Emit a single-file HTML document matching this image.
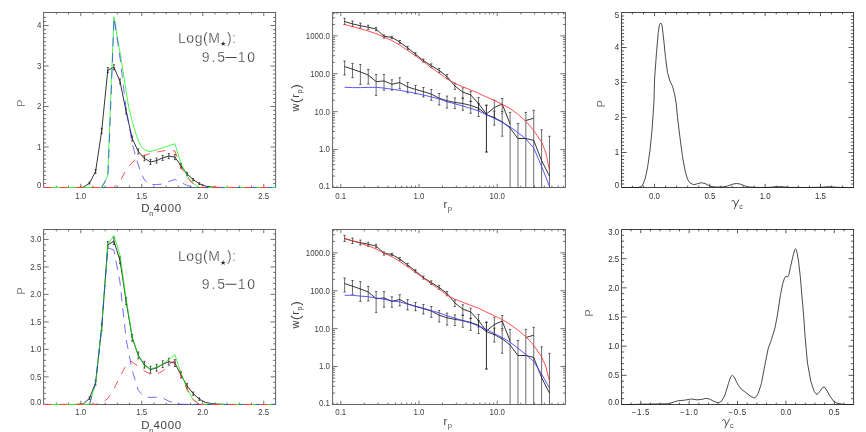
<!DOCTYPE html>
<html><head><meta charset="utf-8"><title>figure</title>
<style>html,body{margin:0;padding:0;background:#fff;overflow:hidden}svg{display:block}</style>
</head><body>
<svg width="866" height="432" viewBox="0 0 866 432">
<rect width="866" height="432" fill="#fff"/>
<g opacity="0.995">
<rect x="43.6" y="12.5" width="232" height="175" fill="none" stroke="#626262" stroke-width="1.0"/>
<path d="M80.75 187.5v-3.7 M80.75 12.5v3.7 M141.75 187.5v-3.7 M141.75 12.5v3.7 M202.75 187.5v-3.7 M202.75 12.5v3.7 M263.75 187.5v-3.7 M263.75 12.5v3.7 M56.35 187.5v-1.9 M56.35 12.5v1.9 M68.55 187.5v-1.9 M68.55 12.5v1.9 M92.95 187.5v-1.9 M92.95 12.5v1.9 M105.15 187.5v-1.9 M105.15 12.5v1.9 M117.35 187.5v-1.9 M117.35 12.5v1.9 M129.55 187.5v-1.9 M129.55 12.5v1.9 M153.95 187.5v-1.9 M153.95 12.5v1.9 M166.15 187.5v-1.9 M166.15 12.5v1.9 M178.35 187.5v-1.9 M178.35 12.5v1.9 M190.55 187.5v-1.9 M190.55 12.5v1.9 M214.95 187.5v-1.9 M214.95 12.5v1.9 M227.15 187.5v-1.9 M227.15 12.5v1.9 M239.35 187.5v-1.9 M239.35 12.5v1.9 M251.55 187.5v-1.9 M251.55 12.5v1.9 " fill="none" stroke="#626262" stroke-width="0.9"/>
<path d="M43.6 147h5 M275.6 147h-5 M43.6 106.5h5 M275.6 106.5h-5 M43.6 66h5 M275.6 66h-5 M43.6 25.5h5 M275.6 25.5h-5 M43.6 183.45h2.5 M275.6 183.45h-2.5 M43.6 179.4h2.5 M275.6 179.4h-2.5 M43.6 175.35h2.5 M275.6 175.35h-2.5 M43.6 171.3h2.5 M275.6 171.3h-2.5 M43.6 167.25h2.5 M275.6 167.25h-2.5 M43.6 163.2h2.5 M275.6 163.2h-2.5 M43.6 159.15h2.5 M275.6 159.15h-2.5 M43.6 155.1h2.5 M275.6 155.1h-2.5 M43.6 151.05h2.5 M275.6 151.05h-2.5 M43.6 142.95h2.5 M275.6 142.95h-2.5 M43.6 138.9h2.5 M275.6 138.9h-2.5 M43.6 134.85h2.5 M275.6 134.85h-2.5 M43.6 130.8h2.5 M275.6 130.8h-2.5 M43.6 126.75h2.5 M275.6 126.75h-2.5 M43.6 122.7h2.5 M275.6 122.7h-2.5 M43.6 118.65h2.5 M275.6 118.65h-2.5 M43.6 114.6h2.5 M275.6 114.6h-2.5 M43.6 110.55h2.5 M275.6 110.55h-2.5 M43.6 102.45h2.5 M275.6 102.45h-2.5 M43.6 98.4h2.5 M275.6 98.4h-2.5 M43.6 94.35h2.5 M275.6 94.35h-2.5 M43.6 90.3h2.5 M275.6 90.3h-2.5 M43.6 86.25h2.5 M275.6 86.25h-2.5 M43.6 82.2h2.5 M275.6 82.2h-2.5 M43.6 78.15h2.5 M275.6 78.15h-2.5 M43.6 74.1h2.5 M275.6 74.1h-2.5 M43.6 70.05h2.5 M275.6 70.05h-2.5 M43.6 61.95h2.5 M275.6 61.95h-2.5 M43.6 57.9h2.5 M275.6 57.9h-2.5 M43.6 53.85h2.5 M275.6 53.85h-2.5 M43.6 49.8h2.5 M275.6 49.8h-2.5 M43.6 45.75h2.5 M275.6 45.75h-2.5 M43.6 41.7h2.5 M275.6 41.7h-2.5 M43.6 37.65h2.5 M275.6 37.65h-2.5 M43.6 33.6h2.5 M275.6 33.6h-2.5 M43.6 29.55h2.5 M275.6 29.55h-2.5 M43.6 21.45h2.5 M275.6 21.45h-2.5 M43.6 17.4h2.5 M275.6 17.4h-2.5 " fill="none" stroke="#626262" stroke-width="0.9"/>
<polyline points="77.3,187.5 83.4,187.18 89.5,183.04 95.6,171.5 101.7,130.8 107.8,70.05 113.9,67.21 120,81.39 126.1,111.36 132.2,138.5 138.3,151.45 144.4,158.34 150.5,161.99 156.6,160.57 162.7,157.94 168.8,156.11 174.9,157.12 181,165.83 187.1,173.97 193.2,179.64 199.3,183.69 205.4,186.12 211.5,186.97 217.6,187.34 223.7,187.5" fill="none" stroke="#111" stroke-width="0.85" />
<path d="M89.5 182.07V184.02 M88.5 182.07h2 M88.5 184.02h2 M95.6 169.63V173.37 M94.6 169.63h2 M94.6 173.37h2 M101.7 128.29V133.31 M100.7 128.29h2 M100.7 133.31h2 M107.8 67.54V72.56 M106.8 67.54h2 M106.8 72.56h2 M113.9 64.7V69.73 M112.9 64.7h2 M112.9 69.73h2 M120 78.88V83.9 M119 78.88h2 M119 83.9h2 M126.1 108.85V113.87 M125.1 108.85h2 M125.1 113.87h2 M132.2 135.98V141.01 M131.2 135.98h2 M131.2 141.01h2 M138.3 148.94V153.97 M137.3 148.94h2 M137.3 153.97h2 M144.4 155.83V160.85 M143.4 155.83h2 M143.4 160.85h2 M150.5 159.47V164.5 M149.5 159.47h2 M149.5 164.5h2 M156.6 158.06V163.08 M155.6 158.06h2 M155.6 163.08h2 M162.7 155.42V160.45 M161.7 155.42h2 M161.7 160.45h2 M168.8 153.6V158.62 M167.8 153.6h2 M167.8 158.62h2 M174.9 154.61V159.64 M173.9 154.61h2 M173.9 159.64h2 M181 163.53V168.14 M180 163.53h2 M180 168.14h2 M187.1 172.3V175.65 M186.1 172.3h2 M186.1 175.65h2 M193.2 178.41V180.88 M192.2 178.41h2 M192.2 180.88h2 M199.3 182.77V184.62 M198.3 182.77h2 M198.3 184.62h2 " fill="none" stroke="#111" stroke-width="0.7"/>
<polyline points="43.6,187.5 101.7,187.5" fill="none" stroke="#3cf03c" stroke-width="1.0" />
<polyline points="199.3,187.5 275.6,187.5" fill="none" stroke="#3cf03c" stroke-width="1.0" />
<polyline points="101.7,187.5 107.7,176 113.9,16.9 120.6,56 126,90 128.4,106 132.5,122.4 136.9,137 140.9,145.9 145,150.3 149.8,151.6 155,150.3 162.7,147.6 168.8,145.7 174.9,143.75 181,163.5 187.1,176 193.2,183.5 199.3,187.5" fill="none" stroke="#00f400" stroke-width="0.72" />
<polyline points="101.7,187.5 108,176.3 114.1,17.8 120.6,62 126,108" fill="none" stroke="#2424ff" stroke-width="0.66" stroke-dasharray="9.3 6.7" stroke-dashoffset="1.22" />
<polyline points="126,108 129,125 132.3,144 135.3,155 138.3,165 141.5,174 144.6,180.2" fill="none" stroke="#2424ff" stroke-width="0.66" stroke-dasharray="9.3 6.7" stroke-dashoffset="10.13" />
<polyline points="144.6,180.2 150.4,184.4 156.6,184.6 162.7,184 168.8,181.5 174.9,179.4 181,182.5 187.1,185.5 193.2,187 199.3,187.5" fill="none" stroke="#2424ff" stroke-width="0.66" stroke-dasharray="9.3 6.7" stroke-dashoffset="6.74" />
<polyline points="199.3,187.5 275.6,187.5" fill="none" stroke="#2424ff" stroke-width="0.66" stroke-dasharray="9.3 6.7" stroke-dashoffset="0" />
<polyline points="43.6,187.5 113.9,187.5" fill="none" stroke="#ff4040" stroke-width="1.0" stroke-dasharray="8.3 7.6" stroke-dashoffset="0" />
<polyline points="113.9,187.5 120,181.25 126.1,169.8 132.2,162.5 138.3,157.9 144.4,155.2 150.5,153.6 156.6,152.1 162.7,151 168.8,150 174.9,151 181,167.5 187.1,177.5 193.2,184 199.3,187.5" fill="none" stroke="#ff0c0c" stroke-width="0.72" stroke-dasharray="8.3 7.6" stroke-dashoffset="4.88" />
<polyline points="199.3,187.5 275.6,187.5" fill="none" stroke="#ff4040" stroke-width="1.0" stroke-dasharray="8.3 7.6" stroke-dashoffset="3.1" />
<text transform="translate(41.3 187.5) scale(0.95 1)" font-size="8.3" text-anchor="end" fill="#404040" font-family="Liberation Sans, sans-serif" >0</text>
<text transform="translate(41.3 149.8) scale(0.95 1)" font-size="8.3" text-anchor="end" fill="#404040" font-family="Liberation Sans, sans-serif" >1</text>
<text transform="translate(41.3 109.3) scale(0.95 1)" font-size="8.3" text-anchor="end" fill="#404040" font-family="Liberation Sans, sans-serif" >2</text>
<text transform="translate(41.3 68.8) scale(0.95 1)" font-size="8.3" text-anchor="end" fill="#404040" font-family="Liberation Sans, sans-serif" >3</text>
<text transform="translate(41.3 28.3) scale(0.95 1)" font-size="8.3" text-anchor="end" fill="#404040" font-family="Liberation Sans, sans-serif" >4</text>
<text transform="translate(80.75 198.6) scale(0.95 1)" font-size="8.3" text-anchor="middle" fill="#404040" font-family="Liberation Sans, sans-serif" >1.0</text>
<text transform="translate(141.75 198.6) scale(0.95 1)" font-size="8.3" text-anchor="middle" fill="#404040" font-family="Liberation Sans, sans-serif" >1.5</text>
<text transform="translate(202.75 198.6) scale(0.95 1)" font-size="8.3" text-anchor="middle" fill="#404040" font-family="Liberation Sans, sans-serif" >2.0</text>
<text transform="translate(263.75 198.6) scale(0.95 1)" font-size="8.3" text-anchor="middle" fill="#404040" font-family="Liberation Sans, sans-serif" >2.5</text>
<text x="141.2" y="212.3" font-size="11.5" fill="#404040" font-family="Liberation Sans, sans-serif" letter-spacing="0.7">D<tspan font-size="7.2" dy="3.4" dx="-0.9" fill="#4a4a4a">n</tspan><tspan dy="-3.4" dx="-0.5">4000</tspan></text>
<text transform="translate(25.1 103.2) rotate(-90)" font-size="10.6" text-anchor="middle" fill="#404040" font-family="Liberation Sans, sans-serif" stroke="#fff" stroke-width="0.22" paint-order="fill stroke">P</text>
<text x="178.0" y="42.5" font-size="14" fill="#2c2c2c" stroke="#fff" stroke-width="0.3" paint-order="fill stroke" font-family="Liberation Sans, sans-serif" letter-spacing="0.55">Log(M<tspan font-size="7" dy="3.6" dx="-0.3" stroke="none">&#9733;</tspan><tspan dy="-3.6" dx="0.2">):</tspan></text>
<text x="201.8" y="62" font-size="14" fill="#2c2c2c" stroke="#fff" stroke-width="0.3" paint-order="fill stroke" font-family="Liberation Sans, sans-serif" letter-spacing="1.9">9.5</text>
<text x="237.7" y="62" font-size="14" fill="#2c2c2c" stroke="#fff" stroke-width="0.3" paint-order="fill stroke" font-family="Liberation Sans, sans-serif" letter-spacing="1.9">10</text>
<path d="M225.6 57.5h11" stroke="#444" stroke-width="1" fill="none"/>
<rect x="43.6" y="229.5" width="232" height="175" fill="none" stroke="#626262" stroke-width="1.0"/>
<path d="M80.75 404.5v-3.7 M80.75 229.5v3.7 M141.75 404.5v-3.7 M141.75 229.5v3.7 M202.75 404.5v-3.7 M202.75 229.5v3.7 M263.75 404.5v-3.7 M263.75 229.5v3.7 M56.35 404.5v-1.9 M56.35 229.5v1.9 M68.55 404.5v-1.9 M68.55 229.5v1.9 M92.95 404.5v-1.9 M92.95 229.5v1.9 M105.15 404.5v-1.9 M105.15 229.5v1.9 M117.35 404.5v-1.9 M117.35 229.5v1.9 M129.55 404.5v-1.9 M129.55 229.5v1.9 M153.95 404.5v-1.9 M153.95 229.5v1.9 M166.15 404.5v-1.9 M166.15 229.5v1.9 M178.35 404.5v-1.9 M178.35 229.5v1.9 M190.55 404.5v-1.9 M190.55 229.5v1.9 M214.95 404.5v-1.9 M214.95 229.5v1.9 M227.15 404.5v-1.9 M227.15 229.5v1.9 M239.35 404.5v-1.9 M239.35 229.5v1.9 M251.55 404.5v-1.9 M251.55 229.5v1.9 " fill="none" stroke="#626262" stroke-width="0.9"/>
<path d="M43.6 404.3h5 M275.6 404.3h-5 M43.6 376.82h5 M275.6 376.82h-5 M43.6 349.35h5 M275.6 349.35h-5 M43.6 321.88h5 M275.6 321.88h-5 M43.6 294.4h5 M275.6 294.4h-5 M43.6 266.93h5 M275.6 266.93h-5 M43.6 239.45h5 M275.6 239.45h-5 M43.6 398.81h2.5 M275.6 398.81h-2.5 M43.6 393.31h2.5 M275.6 393.31h-2.5 M43.6 387.81h2.5 M275.6 387.81h-2.5 M43.6 382.32h2.5 M275.6 382.32h-2.5 M43.6 371.33h2.5 M275.6 371.33h-2.5 M43.6 365.84h2.5 M275.6 365.84h-2.5 M43.6 360.34h2.5 M275.6 360.34h-2.5 M43.6 354.85h2.5 M275.6 354.85h-2.5 M43.6 343.86h2.5 M275.6 343.86h-2.5 M43.6 338.36h2.5 M275.6 338.36h-2.5 M43.6 332.87h2.5 M275.6 332.87h-2.5 M43.6 327.37h2.5 M275.6 327.37h-2.5 M43.6 316.38h2.5 M275.6 316.38h-2.5 M43.6 310.88h2.5 M275.6 310.88h-2.5 M43.6 305.39h2.5 M275.6 305.39h-2.5 M43.6 299.89h2.5 M275.6 299.89h-2.5 M43.6 288.9h2.5 M275.6 288.9h-2.5 M43.6 283.41h2.5 M275.6 283.41h-2.5 M43.6 277.91h2.5 M275.6 277.91h-2.5 M43.6 272.42h2.5 M275.6 272.42h-2.5 M43.6 261.43h2.5 M275.6 261.43h-2.5 M43.6 255.94h2.5 M275.6 255.94h-2.5 M43.6 250.44h2.5 M275.6 250.44h-2.5 M43.6 244.94h2.5 M275.6 244.94h-2.5 M43.6 233.95h2.5 M275.6 233.95h-2.5 " fill="none" stroke="#626262" stroke-width="0.9"/>
<polyline points="77.3,404.3 83.4,403.86 89.5,398.26 95.6,382.59 101.7,327.37 107.8,244.95 113.9,241.1 120,260.33 126.1,300.99 132.2,337.81 138.3,355.39 144.4,364.74 150.5,369.68 156.6,367.76 162.7,364.19 168.8,361.71 174.9,363.09 181,374.9 187.1,385.95 193.2,393.64 199.3,399.13 205.4,402.43 211.5,403.59 217.6,404.08 223.7,404.3" fill="none" stroke="#111" stroke-width="0.85" />
<path d="M89.5 396.94V399.58 M88.5 396.94h2 M88.5 399.58h2 M95.6 380.06V385.13 M94.6 380.06h2 M94.6 385.13h2 M101.7 323.96V330.78 M100.7 323.96h2 M100.7 330.78h2 M107.8 241.54V248.35 M106.8 241.54h2 M106.8 248.35h2 M113.9 237.69V244.51 M112.9 237.69h2 M112.9 244.51h2 M120 256.92V263.74 M119 256.92h2 M119 263.74h2 M126.1 297.59V304.4 M125.1 297.59h2 M125.1 304.4h2 M132.2 334.4V341.22 M131.2 334.4h2 M131.2 341.22h2 M138.3 351.99V358.8 M137.3 351.99h2 M137.3 358.8h2 M144.4 361.33V368.14 M143.4 361.33h2 M143.4 368.14h2 M150.5 366.27V373.09 M149.5 366.27h2 M149.5 373.09h2 M156.6 364.35V371.17 M155.6 364.35h2 M155.6 371.17h2 M162.7 360.78V367.59 M161.7 360.78h2 M161.7 367.59h2 M168.8 358.31V365.12 M167.8 358.31h2 M167.8 365.12h2 M174.9 359.68V366.49 M173.9 359.68h2 M173.9 366.49h2 M181 371.77V378.03 M180 371.77h2 M180 378.03h2 M187.1 383.67V388.22 M186.1 383.67h2 M186.1 388.22h2 M193.2 391.96V395.32 M192.2 391.96h2 M192.2 395.32h2 M199.3 397.88V400.39 M198.3 397.88h2 M198.3 400.39h2 " fill="none" stroke="#111" stroke-width="0.7"/>
<polyline points="43.6,404.5 89.5,404.3" fill="none" stroke="#3cf03c" stroke-width="1.0" />
<polyline points="199.3,404.3 275.6,404.5" fill="none" stroke="#3cf03c" stroke-width="1.0" />
<polyline points="89.5,404.3 95.6,382.87 101.7,327.37 107.8,244.7 113.9,235.3 120,255 126.1,298.8 132.2,336.71 138.3,355.94 144.4,366 150.5,368.8 156.6,367.2 162.7,364 168.8,359.5 174.9,354.6 181,373.2 187.1,388.6 193.2,399.6 199.3,404.3" fill="none" stroke="#00f400" stroke-width="0.72" />
<polyline points="89.5,404.3 95.6,382.87 101.7,327.37 107.8,247.8 113.9,249.9 120,282 126.1,339 132.2,370.5 138.3,390.5 144.4,396.8 150.5,397.4 156.6,397.2 162.7,398 168.8,401.2 174.9,403.4 181,404.3 199.3,404.3" fill="none" stroke="#2424ff" stroke-width="0.66" stroke-dasharray="9.3 6.7" stroke-dashoffset="0.59" />
<polyline points="199.3,404.5 275.6,404.5" fill="none" stroke="#2424ff" stroke-width="0.66" stroke-dasharray="9.3 6.7" stroke-dashoffset="7.9" />
<polyline points="43.6,404.5 95.6,404.3" fill="none" stroke="#ff4040" stroke-width="1.0" stroke-dasharray="8.3 7.6" stroke-dashoffset="0" />
<polyline points="95.6,404.3 101.7,403 107.8,398.5 113.9,389 120,376.5 126.1,365.3 131,361.2 138.3,366.3 144.4,371 150.5,374.1 156.6,374.3 162.7,371 168.8,364.5 174.9,360.7 181,375.4 187.1,389.7 193.2,399.6 199.3,404.3" fill="none" stroke="#ff0c0c" stroke-width="0.72" stroke-dasharray="8.3 7.6" stroke-dashoffset="5.98" />
<polyline points="199.3,404.5 275.6,404.5" fill="none" stroke="#ff4040" stroke-width="1.0" stroke-dasharray="8.3 7.6" stroke-dashoffset="3.1" />
<text transform="translate(41.3 404.5) scale(0.95 1)" font-size="8.3" text-anchor="end" fill="#404040" font-family="Liberation Sans, sans-serif" >0.0</text>
<text transform="translate(41.3 379.62) scale(0.95 1)" font-size="8.3" text-anchor="end" fill="#404040" font-family="Liberation Sans, sans-serif" >0.5</text>
<text transform="translate(41.3 352.15) scale(0.95 1)" font-size="8.3" text-anchor="end" fill="#404040" font-family="Liberation Sans, sans-serif" >1.0</text>
<text transform="translate(41.3 324.68) scale(0.95 1)" font-size="8.3" text-anchor="end" fill="#404040" font-family="Liberation Sans, sans-serif" >1.5</text>
<text transform="translate(41.3 297.2) scale(0.95 1)" font-size="8.3" text-anchor="end" fill="#404040" font-family="Liberation Sans, sans-serif" >2.0</text>
<text transform="translate(41.3 269.73) scale(0.95 1)" font-size="8.3" text-anchor="end" fill="#404040" font-family="Liberation Sans, sans-serif" >2.5</text>
<text transform="translate(41.3 242.25) scale(0.95 1)" font-size="8.3" text-anchor="end" fill="#404040" font-family="Liberation Sans, sans-serif" >3.0</text>
<text transform="translate(80.75 415) scale(0.95 1)" font-size="8.3" text-anchor="middle" fill="#404040" font-family="Liberation Sans, sans-serif" >1.0</text>
<text transform="translate(141.75 415) scale(0.95 1)" font-size="8.3" text-anchor="middle" fill="#404040" font-family="Liberation Sans, sans-serif" >1.5</text>
<text transform="translate(202.75 415) scale(0.95 1)" font-size="8.3" text-anchor="middle" fill="#404040" font-family="Liberation Sans, sans-serif" >2.0</text>
<text transform="translate(263.75 415) scale(0.95 1)" font-size="8.3" text-anchor="middle" fill="#404040" font-family="Liberation Sans, sans-serif" >2.5</text>
<text x="141.2" y="429.3" font-size="11.5" fill="#404040" font-family="Liberation Sans, sans-serif" letter-spacing="0.7">D<tspan font-size="7.2" dy="3.4" dx="-0.9" fill="#4a4a4a">n</tspan><tspan dy="-3.4" dx="-0.5">4000</tspan></text>
<text transform="translate(25.1 291) rotate(-90)" font-size="10.6" text-anchor="middle" fill="#404040" font-family="Liberation Sans, sans-serif" stroke="#fff" stroke-width="0.22" paint-order="fill stroke">P</text>
<text x="178.0" y="261.4" font-size="14" fill="#2c2c2c" stroke="#fff" stroke-width="0.3" paint-order="fill stroke" font-family="Liberation Sans, sans-serif" letter-spacing="0.55">Log(M<tspan font-size="7" dy="3.6" dx="-0.3" stroke="none">&#9733;</tspan><tspan dy="-3.6" dx="0.2">):</tspan></text>
<text x="201.8" y="288.75" font-size="14" fill="#2c2c2c" stroke="#fff" stroke-width="0.3" paint-order="fill stroke" font-family="Liberation Sans, sans-serif" letter-spacing="1.9">9.5</text>
<text x="237.7" y="288.75" font-size="14" fill="#2c2c2c" stroke="#fff" stroke-width="0.3" paint-order="fill stroke" font-family="Liberation Sans, sans-serif" letter-spacing="1.9">10</text>
<path d="M225.6 284.25h11" stroke="#444" stroke-width="1" fill="none"/>
<rect x="332.6" y="12.5" width="232.8" height="175" fill="none" stroke="#626262" stroke-width="1.0"/>
<path d="M340.75 187.5v-3.7 M340.75 12.5v3.7 M419 187.5v-3.7 M419 12.5v3.7 M497.25 187.5v-3.7 M497.25 12.5v3.7 M333.17 187.5v-1.9 M333.17 12.5v1.9 M337.17 187.5v-1.9 M337.17 12.5v1.9 M364.31 187.5v-1.9 M364.31 12.5v1.9 M378.08 187.5v-1.9 M378.08 12.5v1.9 M387.86 187.5v-1.9 M387.86 12.5v1.9 M395.44 187.5v-1.9 M395.44 12.5v1.9 M401.64 187.5v-1.9 M401.64 12.5v1.9 M406.88 187.5v-1.9 M406.88 12.5v1.9 M411.42 187.5v-1.9 M411.42 12.5v1.9 M415.42 187.5v-1.9 M415.42 12.5v1.9 M442.56 187.5v-1.9 M442.56 12.5v1.9 M456.33 187.5v-1.9 M456.33 12.5v1.9 M466.11 187.5v-1.9 M466.11 12.5v1.9 M473.69 187.5v-1.9 M473.69 12.5v1.9 M479.89 187.5v-1.9 M479.89 12.5v1.9 M485.13 187.5v-1.9 M485.13 12.5v1.9 M489.67 187.5v-1.9 M489.67 12.5v1.9 M493.67 187.5v-1.9 M493.67 12.5v1.9 M520.81 187.5v-1.9 M520.81 12.5v1.9 M534.58 187.5v-1.9 M534.58 12.5v1.9 M544.36 187.5v-1.9 M544.36 12.5v1.9 M551.94 187.5v-1.9 M551.94 12.5v1.9 M558.14 187.5v-1.9 M558.14 12.5v1.9 M563.38 187.5v-1.9 M563.38 12.5v1.9 " fill="none" stroke="#626262" stroke-width="0.9"/>
<path d="M332.6 149.55h5 M565.4 149.55h-5 M332.6 111.65h5 M565.4 111.65h-5 M332.6 73.75h5 M565.4 73.75h-5 M332.6 35.85h5 M565.4 35.85h-5 M332.6 176.04h2.5 M565.4 176.04h-2.5 M332.6 169.37h2.5 M565.4 169.37h-2.5 M332.6 164.63h2.5 M565.4 164.63h-2.5 M332.6 160.96h2.5 M565.4 160.96h-2.5 M332.6 157.96h2.5 M565.4 157.96h-2.5 M332.6 155.42h2.5 M565.4 155.42h-2.5 M332.6 153.22h2.5 M565.4 153.22h-2.5 M332.6 151.28h2.5 M565.4 151.28h-2.5 M332.6 138.14h2.5 M565.4 138.14h-2.5 M332.6 131.47h2.5 M565.4 131.47h-2.5 M332.6 126.73h2.5 M565.4 126.73h-2.5 M332.6 123.06h2.5 M565.4 123.06h-2.5 M332.6 120.06h2.5 M565.4 120.06h-2.5 M332.6 117.52h2.5 M565.4 117.52h-2.5 M332.6 115.32h2.5 M565.4 115.32h-2.5 M332.6 113.38h2.5 M565.4 113.38h-2.5 M332.6 100.24h2.5 M565.4 100.24h-2.5 M332.6 93.57h2.5 M565.4 93.57h-2.5 M332.6 88.83h2.5 M565.4 88.83h-2.5 M332.6 85.16h2.5 M565.4 85.16h-2.5 M332.6 82.16h2.5 M565.4 82.16h-2.5 M332.6 79.62h2.5 M565.4 79.62h-2.5 M332.6 77.42h2.5 M565.4 77.42h-2.5 M332.6 75.48h2.5 M565.4 75.48h-2.5 M332.6 62.34h2.5 M565.4 62.34h-2.5 M332.6 55.67h2.5 M565.4 55.67h-2.5 M332.6 50.93h2.5 M565.4 50.93h-2.5 M332.6 47.26h2.5 M565.4 47.26h-2.5 M332.6 44.26h2.5 M565.4 44.26h-2.5 M332.6 41.72h2.5 M565.4 41.72h-2.5 M332.6 39.52h2.5 M565.4 39.52h-2.5 M332.6 37.58h2.5 M565.4 37.58h-2.5 M332.6 24.44h2.5 M565.4 24.44h-2.5 M332.6 17.77h2.5 M565.4 17.77h-2.5 M332.6 13.03h2.5 M565.4 13.03h-2.5 " fill="none" stroke="#626262" stroke-width="0.9"/>
<polyline points="344.6,21.5 352.48,23.9 360.36,25.7 368.24,27.2 376.12,29.1 384,36.3 391.88,37.4 399.76,42.1 407.64,47.9 415.52,54.2 423.4,60.6 431.28,65.6 439.16,70.4 447.04,76.6 454.92,86 462.8,92.1 470.68,94.9 478.56,103.6 486.44,114 494.32,107.5 502.2,104 510.08,124" fill="none" stroke="#111" stroke-width="0.85" />
<polyline points="525.84,120.5 533.72,118.2" fill="none" stroke="#111" stroke-width="0.85" />
<polyline points="344.6,66.5 352.48,69.2 360.36,71.9 368.24,75 376.12,81.7 384,80.9 391.88,84.3 399.76,82.5 407.64,86.9 415.52,89.4 423.4,91.6 431.28,94.1 439.16,98.2 447.04,100.8 454.92,102.4 462.8,103.5 470.68,105.4 478.56,108.3 486.44,114.7 494.32,117.6 502.2,121.9 510.08,128 517.96,138.5 525.84,138.5 533.72,140.4 541.6,160.6 549.48,176.1" fill="none" stroke="#111" stroke-width="0.85" />
<path d="M344.6 18.3V24.5 M343.4 18.3h2.4 M343.4 24.5h2.4 M352.48 21V26.6 M351.28 21h2.4 M351.28 26.6h2.4 M360.36 23.1V28 M359.16 23.1h2.4 M359.16 28h2.4 M368.24 25.2V29.4 M367.04 25.2h2.4 M367.04 29.4h2.4 M376.12 27.3V30.8 M374.92 27.3h2.4 M374.92 30.8h2.4 M384 34.9V38.1 M382.8 34.9h2.4 M382.8 38.1h2.4 M391.88 36.3V38.7 M390.68 36.3h2.4 M390.68 38.7h2.4 M399.76 40.5V43.3 M398.56 40.5h2.4 M398.56 43.3h2.4 M407.64 46.4V49.4 M406.44 46.4h2.4 M406.44 49.4h2.4 M415.52 52.7V55.7 M414.32 52.7h2.4 M414.32 55.7h2.4 M423.4 59.1V62.1 M422.2 59.1h2.4 M422.2 62.1h2.4 M431.28 63.8V67.4 M430.08 63.8h2.4 M430.08 67.4h2.4 M439.16 68.4V72.4 M437.96 68.4h2.4 M437.96 72.4h2.4 M447.04 74.4V78.8 M445.84 74.4h2.4 M445.84 78.8h2.4 M454.92 83.1V89.4 M453.72 83.1h2.4 M453.72 89.4h2.4 M462.8 87.8V98.2 M461.6 87.8h2.4 M461.6 98.2h2.4 M470.68 91.25V101.4 M469.48 91.25h2.4 M469.48 101.4h2.4 M478.56 97.5V110 M477.36 97.5h2.4 M477.36 110h2.4 M486.44 105.2V152 M485.24 105.2h2.4 M485.24 152h2.4 M494.32 100.2V117.5 M493.12 100.2h2.4 M493.12 117.5h2.4 M502.2 98.5V111.5 M501 98.5h2.4 M501 111.5h2.4 M344.6 61V75 M343.4 61h2.4 M343.4 75h2.4 M352.48 63.5V77.7 M351.28 63.5h2.4 M351.28 77.7h2.4 M360.36 64.6V84.4 M359.16 64.6h2.4 M359.16 84.4h2.4 M368.24 69.4V84 M367.04 69.4h2.4 M367.04 84h2.4 M376.12 74.6V95.4 M374.92 74.6h2.4 M374.92 95.4h2.4 M384 74.6V90.2 M382.8 74.6h2.4 M382.8 90.2h2.4 M391.88 79.8V90.2 M390.68 79.8h2.4 M390.68 90.2h2.4 M399.76 77.7V88.8 M398.56 77.7h2.4 M398.56 88.8h2.4 M407.64 82.5V92.9 M406.44 82.5h2.4 M406.44 92.9h2.4 M415.52 85.4V93.8 M414.32 85.4h2.4 M414.32 93.8h2.4 M423.4 87.5V97 M422.2 87.5h2.4 M422.2 97h2.4 M431.28 89.5V100.3 M430.08 89.5h2.4 M430.08 100.3h2.4 M439.16 93.5V105 M437.96 93.5h2.4 M437.96 105h2.4 M447.04 96.1V108.1 M445.84 96.1h2.4 M445.84 108.1h2.4 M454.92 97.9V108.6 M453.72 97.9h2.4 M453.72 108.6h2.4 M462.8 98.2V110.2 M461.6 98.2h2.4 M461.6 110.2h2.4 M470.68 101.4V113.3 M469.48 101.4h2.4 M469.48 113.3h2.4 M478.56 103.5V116.5 M477.36 103.5h2.4 M477.36 116.5h2.4 M486.44 105.2V152 M485.24 105.2h2.4 M485.24 152h2.4 M494.32 111.2V125.1 M493.12 111.2h2.4 M493.12 125.1h2.4 M502.2 113V136.2 M501 113h2.4 M501 136.2h2.4 M525.84 112.4V187.5 M524.64 112.4h2.4 M533.72 110.3V187.5 M532.52 110.3h2.4 M510.08 112.4V187.5 M508.88 112.4h2.4 M517.96 123.4V187.5 M516.76 123.4h2.4 M541.6 129.8V187.5 M540.4 129.8h2.4 M549.48 136.3V187.5 M548.28 136.3h2.4 " fill="none" stroke="#1a1a1a" stroke-width="0.65"/>
<polyline points="344.6,24.5 352.5,26.6 360.3,28.7 368.1,31 376,33.6 383.8,37 391.7,40.5 399.7,45.1 407.5,50.3 415.4,55.8 423.3,61.6 431.2,67.5 439.1,73.2 447,78.7 454.8,83.3 462.7,86.8 470.6,89.9 478.5,93.3 486.5,97 494.4,100.4 502.5,104.4 510,108.5 518,114.3 525.8,121.25 533.7,130.5 541.6,142 545.8,152.5 549.4,169.9" fill="none" stroke="#ff3030" stroke-width="0.85" />
<polyline points="344.6,87.3 352.5,87.6 360.3,87.6 368.1,87.4 376,87.3 383.8,88.1 391.7,89.2 399.7,90.4 407.5,91.7 415.4,93.3 423.3,95 431.2,96.9 439.1,98.9 447,101.7 454.8,103.75 462.7,106 470.6,108.3 478.5,111 486.4,114.6 494.25,118.3 502.1,122.2 510,126.9 517.9,132.7 525.8,138.8 533.7,147.9 541.6,166.4 549.4,186" fill="none" stroke="#3a3aff" stroke-width="0.85" />
<text transform="translate(329.9 38.75) scale(0.95 1)" font-size="8.3" text-anchor="end" fill="#404040" font-family="Liberation Sans, sans-serif" >1000.0</text>
<text transform="translate(329.9 76.65) scale(0.95 1)" font-size="8.3" text-anchor="end" fill="#404040" font-family="Liberation Sans, sans-serif" >100.0</text>
<text transform="translate(329.9 114.55) scale(0.95 1)" font-size="8.3" text-anchor="end" fill="#404040" font-family="Liberation Sans, sans-serif" >10.0</text>
<text transform="translate(329.9 152.45) scale(0.95 1)" font-size="8.3" text-anchor="end" fill="#404040" font-family="Liberation Sans, sans-serif" >1.0</text>
<text transform="translate(329.9 189.25) scale(0.95 1)" font-size="8.3" text-anchor="end" fill="#404040" font-family="Liberation Sans, sans-serif" >0.1</text>
<text transform="translate(340.75 198.6) scale(0.95 1)" font-size="8.3" text-anchor="middle" fill="#404040" font-family="Liberation Sans, sans-serif" >0.1</text>
<text transform="translate(419 198.6) scale(0.95 1)" font-size="8.3" text-anchor="middle" fill="#404040" font-family="Liberation Sans, sans-serif" >1.0</text>
<text transform="translate(497.25 198.6) scale(0.95 1)" font-size="8.3" text-anchor="middle" fill="#404040" font-family="Liberation Sans, sans-serif" >10.0</text>
<text x="443.5" y="207.8" font-size="11" fill="#404040" font-family="Liberation Sans, sans-serif">r<tspan font-size="7.6" dy="3.4" dx="0.5" fill="#4a4a4a">p</tspan></text>
<text transform="translate(299.4 97.6) rotate(-90)" font-size="10.8" text-anchor="middle" fill="#404040" font-family="Liberation Sans, sans-serif" letter-spacing="0.7">w<tspan font-size="13.5" dy="0.6">(</tspan><tspan dy="-0.6">r</tspan><tspan font-size="7.2" dy="2.8" fill="#4a4a4a">p</tspan><tspan dy="-2.2" font-size="13.5">)</tspan></text>
<rect x="332.6" y="229.5" width="232.8" height="175" fill="none" stroke="#626262" stroke-width="1.0"/>
<path d="M340.75 404.5v-3.7 M340.75 229.5v3.7 M419 404.5v-3.7 M419 229.5v3.7 M497.25 404.5v-3.7 M497.25 229.5v3.7 M333.17 404.5v-1.9 M333.17 229.5v1.9 M337.17 404.5v-1.9 M337.17 229.5v1.9 M364.31 404.5v-1.9 M364.31 229.5v1.9 M378.08 404.5v-1.9 M378.08 229.5v1.9 M387.86 404.5v-1.9 M387.86 229.5v1.9 M395.44 404.5v-1.9 M395.44 229.5v1.9 M401.64 404.5v-1.9 M401.64 229.5v1.9 M406.88 404.5v-1.9 M406.88 229.5v1.9 M411.42 404.5v-1.9 M411.42 229.5v1.9 M415.42 404.5v-1.9 M415.42 229.5v1.9 M442.56 404.5v-1.9 M442.56 229.5v1.9 M456.33 404.5v-1.9 M456.33 229.5v1.9 M466.11 404.5v-1.9 M466.11 229.5v1.9 M473.69 404.5v-1.9 M473.69 229.5v1.9 M479.89 404.5v-1.9 M479.89 229.5v1.9 M485.13 404.5v-1.9 M485.13 229.5v1.9 M489.67 404.5v-1.9 M489.67 229.5v1.9 M493.67 404.5v-1.9 M493.67 229.5v1.9 M520.81 404.5v-1.9 M520.81 229.5v1.9 M534.58 404.5v-1.9 M534.58 229.5v1.9 M544.36 404.5v-1.9 M544.36 229.5v1.9 M551.94 404.5v-1.9 M551.94 229.5v1.9 M558.14 404.5v-1.9 M558.14 229.5v1.9 M563.38 404.5v-1.9 M563.38 229.5v1.9 " fill="none" stroke="#626262" stroke-width="0.9"/>
<path d="M332.6 366.55h5 M565.4 366.55h-5 M332.6 328.65h5 M565.4 328.65h-5 M332.6 290.75h5 M565.4 290.75h-5 M332.6 252.85h5 M565.4 252.85h-5 M332.6 393.04h2.5 M565.4 393.04h-2.5 M332.6 386.37h2.5 M565.4 386.37h-2.5 M332.6 381.63h2.5 M565.4 381.63h-2.5 M332.6 377.96h2.5 M565.4 377.96h-2.5 M332.6 374.96h2.5 M565.4 374.96h-2.5 M332.6 372.42h2.5 M565.4 372.42h-2.5 M332.6 370.22h2.5 M565.4 370.22h-2.5 M332.6 368.28h2.5 M565.4 368.28h-2.5 M332.6 355.14h2.5 M565.4 355.14h-2.5 M332.6 348.47h2.5 M565.4 348.47h-2.5 M332.6 343.73h2.5 M565.4 343.73h-2.5 M332.6 340.06h2.5 M565.4 340.06h-2.5 M332.6 337.06h2.5 M565.4 337.06h-2.5 M332.6 334.52h2.5 M565.4 334.52h-2.5 M332.6 332.32h2.5 M565.4 332.32h-2.5 M332.6 330.38h2.5 M565.4 330.38h-2.5 M332.6 317.24h2.5 M565.4 317.24h-2.5 M332.6 310.57h2.5 M565.4 310.57h-2.5 M332.6 305.83h2.5 M565.4 305.83h-2.5 M332.6 302.16h2.5 M565.4 302.16h-2.5 M332.6 299.16h2.5 M565.4 299.16h-2.5 M332.6 296.62h2.5 M565.4 296.62h-2.5 M332.6 294.42h2.5 M565.4 294.42h-2.5 M332.6 292.48h2.5 M565.4 292.48h-2.5 M332.6 279.34h2.5 M565.4 279.34h-2.5 M332.6 272.67h2.5 M565.4 272.67h-2.5 M332.6 267.93h2.5 M565.4 267.93h-2.5 M332.6 264.26h2.5 M565.4 264.26h-2.5 M332.6 261.26h2.5 M565.4 261.26h-2.5 M332.6 258.72h2.5 M565.4 258.72h-2.5 M332.6 256.52h2.5 M565.4 256.52h-2.5 M332.6 254.58h2.5 M565.4 254.58h-2.5 M332.6 241.44h2.5 M565.4 241.44h-2.5 M332.6 234.77h2.5 M565.4 234.77h-2.5 M332.6 230.03h2.5 M565.4 230.03h-2.5 " fill="none" stroke="#626262" stroke-width="0.9"/>
<polyline points="344.6,238.5 352.48,240.9 360.36,242.7 368.24,244.2 376.12,246.1 384,253.3 391.88,254.4 399.76,259.1 407.64,264.9 415.52,271.2 423.4,277.6 431.28,282.6 439.16,287.4 447.04,293.6 454.92,303 462.8,309.1 470.68,311.9 478.56,320.6 486.44,331 494.32,324.5 502.2,321 510.08,341" fill="none" stroke="#111" stroke-width="0.85" />
<polyline points="525.84,337.5 533.72,335.2" fill="none" stroke="#111" stroke-width="0.85" />
<polyline points="344.6,283.5 352.48,286.2 360.36,288.9 368.24,292 376.12,298.7 384,297.9 391.88,301.3 399.76,299.5 407.64,303.9 415.52,306.4 423.4,308.6 431.28,311.1 439.16,315.2 447.04,317.8 454.92,319.4 462.8,320.5 470.68,322.4 478.56,325.3 486.44,331.7 494.32,334.6 502.2,338.9 510.08,345 517.96,355.5 525.84,355.5 533.72,357.4 541.6,377.6 549.48,393.1" fill="none" stroke="#111" stroke-width="0.85" />
<path d="M344.6 235.3V241.5 M343.4 235.3h2.4 M343.4 241.5h2.4 M352.48 238V243.6 M351.28 238h2.4 M351.28 243.6h2.4 M360.36 240.1V245 M359.16 240.1h2.4 M359.16 245h2.4 M368.24 242.2V246.4 M367.04 242.2h2.4 M367.04 246.4h2.4 M376.12 244.3V247.8 M374.92 244.3h2.4 M374.92 247.8h2.4 M384 251.9V255.1 M382.8 251.9h2.4 M382.8 255.1h2.4 M391.88 253.3V255.7 M390.68 253.3h2.4 M390.68 255.7h2.4 M399.76 257.5V260.3 M398.56 257.5h2.4 M398.56 260.3h2.4 M407.64 263.4V266.4 M406.44 263.4h2.4 M406.44 266.4h2.4 M415.52 269.7V272.7 M414.32 269.7h2.4 M414.32 272.7h2.4 M423.4 276.1V279.1 M422.2 276.1h2.4 M422.2 279.1h2.4 M431.28 280.8V284.4 M430.08 280.8h2.4 M430.08 284.4h2.4 M439.16 285.4V289.4 M437.96 285.4h2.4 M437.96 289.4h2.4 M447.04 291.4V295.8 M445.84 291.4h2.4 M445.84 295.8h2.4 M454.92 300.1V306.4 M453.72 300.1h2.4 M453.72 306.4h2.4 M462.8 304.8V315.2 M461.6 304.8h2.4 M461.6 315.2h2.4 M470.68 308.25V318.4 M469.48 308.25h2.4 M469.48 318.4h2.4 M478.56 314.5V327 M477.36 314.5h2.4 M477.36 327h2.4 M486.44 322.2V369 M485.24 322.2h2.4 M485.24 369h2.4 M494.32 317.2V334.5 M493.12 317.2h2.4 M493.12 334.5h2.4 M502.2 315.5V328.5 M501 315.5h2.4 M501 328.5h2.4 M344.6 278V292 M343.4 278h2.4 M343.4 292h2.4 M352.48 280.5V294.7 M351.28 280.5h2.4 M351.28 294.7h2.4 M360.36 281.6V301.4 M359.16 281.6h2.4 M359.16 301.4h2.4 M368.24 286.4V301 M367.04 286.4h2.4 M367.04 301h2.4 M376.12 291.6V312.4 M374.92 291.6h2.4 M374.92 312.4h2.4 M384 291.6V307.2 M382.8 291.6h2.4 M382.8 307.2h2.4 M391.88 296.8V307.2 M390.68 296.8h2.4 M390.68 307.2h2.4 M399.76 294.7V305.8 M398.56 294.7h2.4 M398.56 305.8h2.4 M407.64 299.5V309.9 M406.44 299.5h2.4 M406.44 309.9h2.4 M415.52 302.4V310.8 M414.32 302.4h2.4 M414.32 310.8h2.4 M423.4 304.5V314 M422.2 304.5h2.4 M422.2 314h2.4 M431.28 306.5V317.3 M430.08 306.5h2.4 M430.08 317.3h2.4 M439.16 310.5V322 M437.96 310.5h2.4 M437.96 322h2.4 M447.04 313.1V325.1 M445.84 313.1h2.4 M445.84 325.1h2.4 M454.92 314.9V325.6 M453.72 314.9h2.4 M453.72 325.6h2.4 M462.8 315.2V327.2 M461.6 315.2h2.4 M461.6 327.2h2.4 M470.68 318.4V330.3 M469.48 318.4h2.4 M469.48 330.3h2.4 M478.56 320.5V333.5 M477.36 320.5h2.4 M477.36 333.5h2.4 M486.44 322.2V369 M485.24 322.2h2.4 M485.24 369h2.4 M494.32 328.2V342.1 M493.12 328.2h2.4 M493.12 342.1h2.4 M502.2 330V353.2 M501 330h2.4 M501 353.2h2.4 M525.84 329.4V404.5 M524.64 329.4h2.4 M533.72 327.3V404.5 M532.52 327.3h2.4 M510.08 329.4V404.5 M508.88 329.4h2.4 M517.96 340.4V404.5 M516.76 340.4h2.4 M541.6 346.8V404.5 M540.4 346.8h2.4 M549.48 353.3V404.5 M548.28 353.3h2.4 " fill="none" stroke="#1a1a1a" stroke-width="0.65"/>
<polyline points="344.6,238.5 352.5,240.8 360.3,243.2 368.1,245.8 376,248.9 383.8,253 391.7,256.6 399.7,261.4 407.5,266.6 415.4,272.2 423.3,278 431.2,283.7 439.1,289.1 447,295 454.8,299.2 462.7,302.2 470.6,305.3 478.5,308.2 486.5,312.1 494.4,315.8 502.5,319.7 510,324.4 518,330.1 525.8,336.6 533.7,345.2 541.6,356.8 545.8,366.5 549.4,381.1" fill="none" stroke="#ff3030" stroke-width="0.85" />
<polyline points="344.6,295.3 352.48,295.3 360.36,296.1 368.24,296.7 376.12,298.1 384,299.2 391.88,301 399.76,301.9 407.64,304.2 415.52,306.2 423.4,308.25 431.28,310.6 439.16,312.9 447.04,315.75 454.92,318.1 462.8,320.75 470.68,323 478.56,326 486.44,329.5 494.32,333.6 502.2,337.6 510.08,342.2 517.96,348.2 525.84,354.5 533.72,361.4 541.6,374.1 549.48,388" fill="none" stroke="#3a3aff" stroke-width="0.85" />
<text transform="translate(329.9 255.75) scale(0.95 1)" font-size="8.3" text-anchor="end" fill="#404040" font-family="Liberation Sans, sans-serif" >1000.0</text>
<text transform="translate(329.9 293.65) scale(0.95 1)" font-size="8.3" text-anchor="end" fill="#404040" font-family="Liberation Sans, sans-serif" >100.0</text>
<text transform="translate(329.9 331.55) scale(0.95 1)" font-size="8.3" text-anchor="end" fill="#404040" font-family="Liberation Sans, sans-serif" >10.0</text>
<text transform="translate(329.9 369.45) scale(0.95 1)" font-size="8.3" text-anchor="end" fill="#404040" font-family="Liberation Sans, sans-serif" >1.0</text>
<text transform="translate(329.9 406.25) scale(0.95 1)" font-size="8.3" text-anchor="end" fill="#404040" font-family="Liberation Sans, sans-serif" >0.1</text>
<text transform="translate(340.75 415) scale(0.95 1)" font-size="8.3" text-anchor="middle" fill="#404040" font-family="Liberation Sans, sans-serif" >0.1</text>
<text transform="translate(419 415) scale(0.95 1)" font-size="8.3" text-anchor="middle" fill="#404040" font-family="Liberation Sans, sans-serif" >1.0</text>
<text transform="translate(497.25 415) scale(0.95 1)" font-size="8.3" text-anchor="middle" fill="#404040" font-family="Liberation Sans, sans-serif" >10.0</text>
<text x="443.5" y="424.8" font-size="11" fill="#404040" font-family="Liberation Sans, sans-serif">r<tspan font-size="7.6" dy="3.4" dx="0.5" fill="#4a4a4a">p</tspan></text>
<text transform="translate(299.4 314.6) rotate(-90)" font-size="10.8" text-anchor="middle" fill="#404040" font-family="Liberation Sans, sans-serif" letter-spacing="0.7">w<tspan font-size="13.5" dy="0.6">(</tspan><tspan dy="-0.6">r</tspan><tspan font-size="7.2" dy="2.8" fill="#4a4a4a">p</tspan><tspan dy="-2.2" font-size="13.5">)</tspan></text>
<rect x="621.6" y="12.5" width="232" height="175" fill="none" stroke="#2e2e2e" stroke-width="0.9"/>
<polyline points="621.6,187.5 637.5,187.5 640,187 642.5,185.49 645,179.2 647.5,167.89 650,150.29 652,130.17 653.25,112.57 654,100 654.5,80 656.5,52.5 658.25,32.5 659.5,24.5 660.75,23 662,25 663.75,40 665.5,57.5 667.5,72.5 670,81.25 672.5,86.25 674.5,93.75 676.25,103.77 677.5,117.6 680,137.72 682.5,156.57 685,170.4 687.5,179.2 690,182.97 693.75,184.73 697.5,183.73 701.25,182.72 705,183.48 710,186.24 715,187 722.5,187 727.5,185.99 732.5,184.23 736.25,183.48 740,183.98 745,185.99 750,187.1 760,187.5 770,187.3 776,186.7 782,186.7 790,187.4 810,187.5 822,187.2 829,186.7 836,187.2 845,187.5 853.6,187.5" fill="none" stroke="#1c1c1c" stroke-width="0.8" stroke-linejoin="round"/>
<path d="M654.5 187.5v-3.7 M654.5 12.5v3.7 M709.84 187.5v-3.7 M709.84 12.5v3.7 M765.17 187.5v-3.7 M765.17 12.5v3.7 M820.5 187.5v-3.7 M820.5 12.5v3.7 M632.37 187.5v-1.9 M632.37 12.5v1.9 M643.43 187.5v-1.9 M643.43 12.5v1.9 M665.57 187.5v-1.9 M665.57 12.5v1.9 M676.63 187.5v-1.9 M676.63 12.5v1.9 M687.7 187.5v-1.9 M687.7 12.5v1.9 M698.77 187.5v-1.9 M698.77 12.5v1.9 M720.9 187.5v-1.9 M720.9 12.5v1.9 M731.97 187.5v-1.9 M731.97 12.5v1.9 M743.04 187.5v-1.9 M743.04 12.5v1.9 M754.1 187.5v-1.9 M754.1 12.5v1.9 M776.24 187.5v-1.9 M776.24 12.5v1.9 M787.3 187.5v-1.9 M787.3 12.5v1.9 M798.37 187.5v-1.9 M798.37 12.5v1.9 M809.44 187.5v-1.9 M809.44 12.5v1.9 M831.57 187.5v-1.9 M831.57 12.5v1.9 M842.64 187.5v-1.9 M842.64 12.5v1.9 " fill="none" stroke="#2e2e2e" stroke-width="0.81"/>
<path d="M621.6 152.5h5 M853.6 152.5h-5 M621.6 117.5h5 M853.6 117.5h-5 M621.6 82.5h5 M853.6 82.5h-5 M621.6 47.5h5 M853.6 47.5h-5 M621.6 184h2.5 M853.6 184h-2.5 M621.6 180.5h2.5 M853.6 180.5h-2.5 M621.6 177h2.5 M853.6 177h-2.5 M621.6 173.5h2.5 M853.6 173.5h-2.5 M621.6 170h2.5 M853.6 170h-2.5 M621.6 166.5h2.5 M853.6 166.5h-2.5 M621.6 163h2.5 M853.6 163h-2.5 M621.6 159.5h2.5 M853.6 159.5h-2.5 M621.6 156h2.5 M853.6 156h-2.5 M621.6 149h2.5 M853.6 149h-2.5 M621.6 145.5h2.5 M853.6 145.5h-2.5 M621.6 142h2.5 M853.6 142h-2.5 M621.6 138.5h2.5 M853.6 138.5h-2.5 M621.6 135h2.5 M853.6 135h-2.5 M621.6 131.5h2.5 M853.6 131.5h-2.5 M621.6 128h2.5 M853.6 128h-2.5 M621.6 124.5h2.5 M853.6 124.5h-2.5 M621.6 121h2.5 M853.6 121h-2.5 M621.6 114h2.5 M853.6 114h-2.5 M621.6 110.5h2.5 M853.6 110.5h-2.5 M621.6 107h2.5 M853.6 107h-2.5 M621.6 103.5h2.5 M853.6 103.5h-2.5 M621.6 100h2.5 M853.6 100h-2.5 M621.6 96.5h2.5 M853.6 96.5h-2.5 M621.6 93h2.5 M853.6 93h-2.5 M621.6 89.5h2.5 M853.6 89.5h-2.5 M621.6 86h2.5 M853.6 86h-2.5 M621.6 79h2.5 M853.6 79h-2.5 M621.6 75.5h2.5 M853.6 75.5h-2.5 M621.6 72h2.5 M853.6 72h-2.5 M621.6 68.5h2.5 M853.6 68.5h-2.5 M621.6 65h2.5 M853.6 65h-2.5 M621.6 61.5h2.5 M853.6 61.5h-2.5 M621.6 58h2.5 M853.6 58h-2.5 M621.6 54.5h2.5 M853.6 54.5h-2.5 M621.6 51h2.5 M853.6 51h-2.5 M621.6 44h2.5 M853.6 44h-2.5 M621.6 40.5h2.5 M853.6 40.5h-2.5 M621.6 37h2.5 M853.6 37h-2.5 M621.6 33.5h2.5 M853.6 33.5h-2.5 M621.6 30h2.5 M853.6 30h-2.5 M621.6 26.5h2.5 M853.6 26.5h-2.5 M621.6 23h2.5 M853.6 23h-2.5 M621.6 19.5h2.5 M853.6 19.5h-2.5 M621.6 16h2.5 M853.6 16h-2.5 " fill="none" stroke="#2e2e2e" stroke-width="0.81"/>
<text transform="translate(619.2 187.9) scale(0.95 1)" font-size="8.3" text-anchor="end" fill="#2e2e2e" font-family="Liberation Sans, sans-serif" >0</text>
<text transform="translate(619.2 155.4) scale(0.95 1)" font-size="8.3" text-anchor="end" fill="#2e2e2e" font-family="Liberation Sans, sans-serif" >1</text>
<text transform="translate(619.2 120.4) scale(0.95 1)" font-size="8.3" text-anchor="end" fill="#2e2e2e" font-family="Liberation Sans, sans-serif" >2</text>
<text transform="translate(619.2 85.4) scale(0.95 1)" font-size="8.3" text-anchor="end" fill="#2e2e2e" font-family="Liberation Sans, sans-serif" >3</text>
<text transform="translate(619.2 50.4) scale(0.95 1)" font-size="8.3" text-anchor="end" fill="#2e2e2e" font-family="Liberation Sans, sans-serif" >4</text>
<text transform="translate(619.2 17.9) scale(0.95 1)" font-size="8.3" text-anchor="end" fill="#2e2e2e" font-family="Liberation Sans, sans-serif" >5</text>
<text transform="translate(654.5 198.75) scale(0.95 1)" font-size="8.3" text-anchor="middle" fill="#2e2e2e" font-family="Liberation Sans, sans-serif" >0.0</text>
<text transform="translate(709.84 198.75) scale(0.95 1)" font-size="8.3" text-anchor="middle" fill="#2e2e2e" font-family="Liberation Sans, sans-serif" >0.5</text>
<text transform="translate(765.17 198.75) scale(0.95 1)" font-size="8.3" text-anchor="middle" fill="#2e2e2e" font-family="Liberation Sans, sans-serif" >1.0</text>
<text transform="translate(820.5 198.75) scale(0.95 1)" font-size="8.3" text-anchor="middle" fill="#2e2e2e" font-family="Liberation Sans, sans-serif" >1.5</text>
<path d="M731.9 201.2 c0.4 -1.2 1.7 -1.4 2.3 0 c0.7 1.6 1.2 3.2 1.4 4.8 M738.9 199.9 c-1.3 2.3 -2.6 4.5 -3.3 6.1 c-0.6 1.2 -1.1 2.0 -1.3 2.6" fill="none" stroke="#3a3a3a" stroke-width="0.95" stroke-linecap="round" stroke-linejoin="round"/>
<text x="739.2" y="208.7" font-size="7" fill="#444" font-family="Liberation Sans, sans-serif">c</text>
<text transform="translate(605 103.8) rotate(-90)" font-size="10.6" text-anchor="middle" fill="#2e2e2e" font-family="Liberation Sans, sans-serif" stroke="#fff" stroke-width="0.22" paint-order="fill stroke">P</text>
<rect x="621.6" y="229.5" width="232" height="175" fill="none" stroke="#2e2e2e" stroke-width="0.9"/>
<polyline points="621.6,404.5 632,404.5 641.9,404.2 655,404 668.9,403.75 673.4,402.19 677.9,400.78 684.6,400.18 691.3,398.97 697,399.87 701.4,399.47 705.9,398.36 709.3,398.97 713.8,401.28 718.3,402.89 721.6,401.08 725,394.95 728.4,383.68 730.6,376.84 732.4,375.33 734.2,376.94 736.7,382.37 738.8,385.89 741.2,389.11 745.7,392.53 750.2,395.95 754,397.96 756.2,396.66 758.1,393.64 761.4,383.48 764.8,365.38 768.2,348.48 771.5,339.43 774.9,328.16 776.9,318.01 778.5,308 780.5,294.6 782.8,283.4 784.6,277.8 786.1,276 787.5,277.1 788.8,274.8 790.6,266.5 792.9,256.4 794.7,249.7 795.6,248.8 796.7,250.8 798.5,260.9 800.3,276.6 801.8,294.6 803.2,310.3 804.1,322.03 805,336.11 807.5,363.16 810.8,381.27 814.2,391.43 816.9,394.74 819.8,391.43 822.5,387.6 824.3,386.9 826.5,389.82 829.9,395.95 833.3,400.88 836.6,403.09 841.1,404 845.6,404.5 853.6,404.5" fill="none" stroke="#1c1c1c" stroke-width="0.8" stroke-linejoin="round"/>
<path d="M640.77 404.5v-3.7 M640.77 229.5v3.7 M689.15 404.5v-3.7 M689.15 229.5v3.7 M737.52 404.5v-3.7 M737.52 229.5v3.7 M785.9 404.5v-3.7 M785.9 229.5v3.7 M834.27 404.5v-3.7 M834.27 229.5v3.7 M631.1 404.5v-1.9 M631.1 229.5v1.9 M650.45 404.5v-1.9 M650.45 229.5v1.9 M660.12 404.5v-1.9 M660.12 229.5v1.9 M669.8 404.5v-1.9 M669.8 229.5v1.9 M679.48 404.5v-1.9 M679.48 229.5v1.9 M698.83 404.5v-1.9 M698.83 229.5v1.9 M708.5 404.5v-1.9 M708.5 229.5v1.9 M718.17 404.5v-1.9 M718.17 229.5v1.9 M727.85 404.5v-1.9 M727.85 229.5v1.9 M747.2 404.5v-1.9 M747.2 229.5v1.9 M756.88 404.5v-1.9 M756.88 229.5v1.9 M766.55 404.5v-1.9 M766.55 229.5v1.9 M776.23 404.5v-1.9 M776.23 229.5v1.9 M795.57 404.5v-1.9 M795.57 229.5v1.9 M805.25 404.5v-1.9 M805.25 229.5v1.9 M814.92 404.5v-1.9 M814.92 229.5v1.9 M824.6 404.5v-1.9 M824.6 229.5v1.9 M843.95 404.5v-1.9 M843.95 229.5v1.9 " fill="none" stroke="#2e2e2e" stroke-width="0.81"/>
<path d="M621.6 375.33h5 M853.6 375.33h-5 M621.6 346.17h5 M853.6 346.17h-5 M621.6 317h5 M853.6 317h-5 M621.6 287.84h5 M853.6 287.84h-5 M621.6 258.68h5 M853.6 258.68h-5 M621.6 398.67h2.5 M853.6 398.67h-2.5 M621.6 392.83h2.5 M853.6 392.83h-2.5 M621.6 387h2.5 M853.6 387h-2.5 M621.6 381.17h2.5 M853.6 381.17h-2.5 M621.6 369.5h2.5 M853.6 369.5h-2.5 M621.6 363.67h2.5 M853.6 363.67h-2.5 M621.6 357.84h2.5 M853.6 357.84h-2.5 M621.6 352h2.5 M853.6 352h-2.5 M621.6 340.34h2.5 M853.6 340.34h-2.5 M621.6 334.5h2.5 M853.6 334.5h-2.5 M621.6 328.67h2.5 M853.6 328.67h-2.5 M621.6 322.84h2.5 M853.6 322.84h-2.5 M621.6 311.17h2.5 M853.6 311.17h-2.5 M621.6 305.34h2.5 M853.6 305.34h-2.5 M621.6 299.51h2.5 M853.6 299.51h-2.5 M621.6 293.67h2.5 M853.6 293.67h-2.5 M621.6 282.01h2.5 M853.6 282.01h-2.5 M621.6 276.17h2.5 M853.6 276.17h-2.5 M621.6 270.34h2.5 M853.6 270.34h-2.5 M621.6 264.51h2.5 M853.6 264.51h-2.5 M621.6 252.84h2.5 M853.6 252.84h-2.5 M621.6 247.01h2.5 M853.6 247.01h-2.5 M621.6 241.18h2.5 M853.6 241.18h-2.5 M621.6 235.34h2.5 M853.6 235.34h-2.5 " fill="none" stroke="#2e2e2e" stroke-width="0.81"/>
<text transform="translate(619.2 404.9) scale(0.95 1)" font-size="8.3" text-anchor="end" fill="#2e2e2e" font-family="Liberation Sans, sans-serif" >0.0</text>
<text transform="translate(619.2 378.23) scale(0.95 1)" font-size="8.3" text-anchor="end" fill="#2e2e2e" font-family="Liberation Sans, sans-serif" >0.5</text>
<text transform="translate(619.2 349.07) scale(0.95 1)" font-size="8.3" text-anchor="end" fill="#2e2e2e" font-family="Liberation Sans, sans-serif" >1.0</text>
<text transform="translate(619.2 319.9) scale(0.95 1)" font-size="8.3" text-anchor="end" fill="#2e2e2e" font-family="Liberation Sans, sans-serif" >1.5</text>
<text transform="translate(619.2 290.74) scale(0.95 1)" font-size="8.3" text-anchor="end" fill="#2e2e2e" font-family="Liberation Sans, sans-serif" >2.0</text>
<text transform="translate(619.2 261.57) scale(0.95 1)" font-size="8.3" text-anchor="end" fill="#2e2e2e" font-family="Liberation Sans, sans-serif" >2.5</text>
<text transform="translate(619.2 234.91) scale(0.95 1)" font-size="8.3" text-anchor="end" fill="#2e2e2e" font-family="Liberation Sans, sans-serif" >3.0</text>
<text transform="translate(640.98 415) scale(0.95 1)" font-size="8.3" text-anchor="middle" fill="#2e2e2e" font-family="Liberation Sans, sans-serif" letter-spacing="0.75">&#8722;1.5</text>
<text transform="translate(689.35 415) scale(0.95 1)" font-size="8.3" text-anchor="middle" fill="#2e2e2e" font-family="Liberation Sans, sans-serif" letter-spacing="0.75">&#8722;1.0</text>
<text transform="translate(737.73 415) scale(0.95 1)" font-size="8.3" text-anchor="middle" fill="#2e2e2e" font-family="Liberation Sans, sans-serif" letter-spacing="0.75">&#8722;0.5</text>
<text transform="translate(785.9 415) scale(0.95 1)" font-size="8.3" text-anchor="middle" fill="#2e2e2e" font-family="Liberation Sans, sans-serif" >0.0</text>
<text transform="translate(834.27 415) scale(0.95 1)" font-size="8.3" text-anchor="middle" fill="#2e2e2e" font-family="Liberation Sans, sans-serif" >0.5</text>
<path d="M722.6 420.4 c0.4 -1.2 1.7 -1.4 2.3 0 c0.7 1.6 1.2 3.2 1.4 4.8 M729.6 419.1 c-1.3 2.3 -2.6 4.5 -3.3 6.1 c-0.6 1.2 -1.1 2.0 -1.3 2.6" fill="none" stroke="#3a3a3a" stroke-width="0.95" stroke-linecap="round" stroke-linejoin="round"/>
<text x="729.9" y="427.9" font-size="7" fill="#444" font-family="Liberation Sans, sans-serif">c</text>
<text transform="translate(592.6 312.9) rotate(-90)" font-size="10.6" text-anchor="middle" fill="#2e2e2e" font-family="Liberation Sans, sans-serif" stroke="#fff" stroke-width="0.22" paint-order="fill stroke">P</text>
</g>
</svg>
</body></html>
